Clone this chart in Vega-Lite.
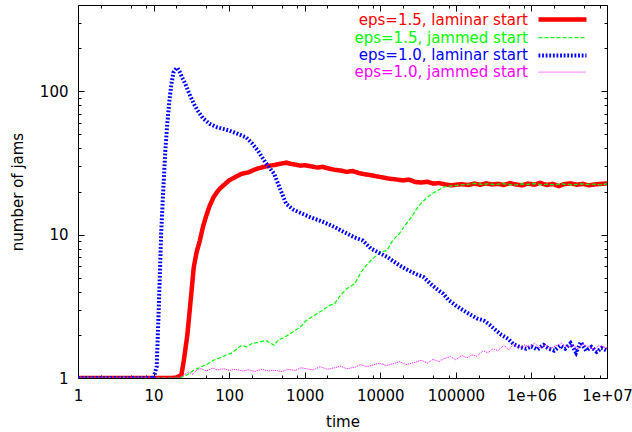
{
  "$schema": "https://vega.github.io/schema/vega-lite/v6.json",
  "width": 529,
  "height": 373,
  "autosize": {"type": "none"},
  "padding": {"left": 78, "top": 5, "right": 25, "bottom": 54},
  "background": "white",
  "config": {
    "view": {"stroke": "black", "strokeWidth": 1},
    "font": "DejaVu Sans",
    "axis": {"labelFont": "DejaVu Sans", "titleFont": "DejaVu Sans", "labelFontSize": 15, "titleFontSize": 15, "titleFontWeight": "normal", "labelColor": "black", "titleColor": "black", "grid": false, "domain": false, "tickColor": "black", "tickWidth": 1}
  },
  "datasets": {
    "jams": [
      {"s":"eps=1.5, laminar start","t":1,"n":1},{"s":"eps=1.5, laminar start","t":5,"n":1},{"s":"eps=1.5, laminar start","t":10,"n":1},{"s":"eps=1.5, laminar start","t":15,"n":1},{"s":"eps=1.5, laminar start","t":18,"n":1},{"s":"eps=1.5, laminar start","t":20,"n":1.01},{"s":"eps=1.5, laminar start","t":22,"n":1.03},{"s":"eps=1.5, laminar start","t":23.4,"n":1.06},{"s":"eps=1.5, laminar start","t":25,"n":1.3},{"s":"eps=1.5, laminar start","t":28,"n":2.0},{"s":"eps=1.5, laminar start","t":31,"n":3.5},{"s":"eps=1.5, laminar start","t":34,"n":5.9},{"s":"eps=1.5, laminar start","t":37,"n":7.5},{"s":"eps=1.5, laminar start","t":41,"n":9.1},{"s":"eps=1.5, laminar start","t":45,"n":11.3},{"s":"eps=1.5, laminar start","t":49,"n":13.2},{"s":"eps=1.5, laminar start","t":55,"n":15.8},{"s":"eps=1.5, laminar start","t":62,"n":18.2},{"s":"eps=1.5, laminar start","t":70,"n":20},{"s":"eps=1.5, laminar start","t":75,"n":20.9},{"s":"eps=1.5, laminar start","t":87,"n":22.4},{"s":"eps=1.5, laminar start","t":100,"n":23.9},{"s":"eps=1.5, laminar start","t":120,"n":25.2},{"s":"eps=1.5, laminar start","t":147,"n":26.6},{"s":"eps=1.5, laminar start","t":180,"n":27.2},{"s":"eps=1.5, laminar start","t":220,"n":28.5},{"s":"eps=1.5, laminar start","t":272,"n":29.5},{"s":"eps=1.5, laminar start","t":330,"n":30.2},{"s":"eps=1.5, laminar start","t":400,"n":30.6},{"s":"eps=1.5, laminar start","t":470,"n":31.2},{"s":"eps=1.5, laminar start","t":569,"n":31.8},{"s":"eps=1.5, laminar start","t":650,"n":31.2},{"s":"eps=1.5, laminar start","t":750,"n":30.8},{"s":"eps=1.5, laminar start","t":880,"n":30.3},{"s":"eps=1.5, laminar start","t":1000,"n":30.5},{"s":"eps=1.5, laminar start","t":1200,"n":30.0},{"s":"eps=1.5, laminar start","t":1450,"n":29.4},{"s":"eps=1.5, laminar start","t":1722,"n":29.7},{"s":"eps=1.5, laminar start","t":2100,"n":28.9},{"s":"eps=1.5, laminar start","t":2500,"n":28.3},{"s":"eps=1.5, laminar start","t":3000,"n":28.0},{"s":"eps=1.5, laminar start","t":3600,"n":27.4},{"s":"eps=1.5, laminar start","t":4300,"n":27.8},{"s":"eps=1.5, laminar start","t":5200,"n":26.9},{"s":"eps=1.5, laminar start","t":6200,"n":26.4},{"s":"eps=1.5, laminar start","t":7500,"n":26.0},{"s":"eps=1.5, laminar start","t":9000,"n":25.5},{"s":"eps=1.5, laminar start","t":11000,"n":25.0},{"s":"eps=1.5, laminar start","t":13000,"n":24.6},{"s":"eps=1.5, laminar start","t":16000,"n":24.3},{"s":"eps=1.5, laminar start","t":20000,"n":23.9},{"s":"eps=1.5, laminar start","t":24000,"n":24.2},{"s":"eps=1.5, laminar start","t":29000,"n":23.3},{"s":"eps=1.5, laminar start","t":35000,"n":23.1},{"s":"eps=1.5, laminar start","t":42000,"n":23.4},{"s":"eps=1.5, laminar start","t":50000,"n":22.7},{"s":"eps=1.5, laminar start","t":60000,"n":22.9},{"s":"eps=1.5, laminar start","t":72000,"n":22.4},{"s":"eps=1.5, laminar start","t":87000,"n":22.1},{"s":"eps=1.5, laminar start","t":100000,"n":22.3},{"s":"eps=1.5, laminar start","t":120000,"n":22.5},{"s":"eps=1.5, laminar start","t":145000,"n":22.2},{"s":"eps=1.5, laminar start","t":175000,"n":22.7},{"s":"eps=1.5, laminar start","t":210000,"n":22.3},{"s":"eps=1.5, laminar start","t":250000,"n":22.8},{"s":"eps=1.5, laminar start","t":300000,"n":22.4},{"s":"eps=1.5, laminar start","t":360000,"n":22.6},{"s":"eps=1.5, laminar start","t":430000,"n":22.2},{"s":"eps=1.5, laminar start","t":520000,"n":22.9},{"s":"eps=1.5, laminar start","t":620000,"n":22.4},{"s":"eps=1.5, laminar start","t":750000,"n":22.1},{"s":"eps=1.5, laminar start","t":900000,"n":22.7},{"s":"eps=1.5, laminar start","t":1100000,"n":22.3},{"s":"eps=1.5, laminar start","t":1300000,"n":23.0},{"s":"eps=1.5, laminar start","t":1600000,"n":22.2},{"s":"eps=1.5, laminar start","t":1900000,"n":22.6},{"s":"eps=1.5, laminar start","t":2300000,"n":21.8},{"s":"eps=1.5, laminar start","t":2700000,"n":22.5},{"s":"eps=1.5, laminar start","t":3300000,"n":22.8},{"s":"eps=1.5, laminar start","t":4000000,"n":22.3},{"s":"eps=1.5, laminar start","t":4800000,"n":22.6},{"s":"eps=1.5, laminar start","t":5700000,"n":22.1},{"s":"eps=1.5, laminar start","t":6900000,"n":22.4},{"s":"eps=1.5, laminar start","t":8300000,"n":22.6},{"s":"eps=1.5, laminar start","t":10000000,"n":22.8},

      {"s":"eps=1.5, jammed start","t":1,"n":1},{"s":"eps=1.5, jammed start","t":10,"n":1},{"s":"eps=1.5, jammed start","t":20,"n":1},{"s":"eps=1.5, jammed start","t":25,"n":1.02},{"s":"eps=1.5, jammed start","t":30,"n":1.08},{"s":"eps=1.5, jammed start","t":33.7,"n":1.13},{"s":"eps=1.5, jammed start","t":40,"n":1.18},{"s":"eps=1.5, jammed start","t":50,"n":1.24},{"s":"eps=1.5, jammed start","t":62,"n":1.33},{"s":"eps=1.5, jammed start","t":75,"n":1.38},{"s":"eps=1.5, jammed start","t":90,"n":1.44},{"s":"eps=1.5, jammed start","t":110,"n":1.5},{"s":"eps=1.5, jammed start","t":130,"n":1.62},{"s":"eps=1.5, jammed start","t":147,"n":1.69},{"s":"eps=1.5, jammed start","t":170,"n":1.65},{"s":"eps=1.5, jammed start","t":200,"n":1.74},{"s":"eps=1.5, jammed start","t":250,"n":1.78},{"s":"eps=1.5, jammed start","t":307,"n":1.83},{"s":"eps=1.5, jammed start","t":350,"n":1.75},{"s":"eps=1.5, jammed start","t":394,"n":1.69},{"s":"eps=1.5, jammed start","t":450,"n":1.85},{"s":"eps=1.5, jammed start","t":520,"n":1.9},{"s":"eps=1.5, jammed start","t":645,"n":2.04},{"s":"eps=1.5, jammed start","t":800,"n":2.2},{"s":"eps=1.5, jammed start","t":900,"n":2.3},{"s":"eps=1.5, jammed start","t":1050,"n":2.52},{"s":"eps=1.5, jammed start","t":1300,"n":2.7},{"s":"eps=1.5, jammed start","t":1500,"n":2.85},{"s":"eps=1.5, jammed start","t":1722,"n":2.96},{"s":"eps=1.5, jammed start","t":2100,"n":3.2},{"s":"eps=1.5, jammed start","t":2490,"n":3.3},{"s":"eps=1.5, jammed start","t":3000,"n":3.8},{"s":"eps=1.5, jammed start","t":3600,"n":4.2},{"s":"eps=1.5, jammed start","t":4590,"n":4.55},{"s":"eps=1.5, jammed start","t":5500,"n":5.4},{"s":"eps=1.5, jammed start","t":6500,"n":6.1},{"s":"eps=1.5, jammed start","t":7510,"n":6.6},{"s":"eps=1.5, jammed start","t":9000,"n":7.2},{"s":"eps=1.5, jammed start","t":10500,"n":7.6},{"s":"eps=1.5, jammed start","t":12300,"n":7.76},{"s":"eps=1.5, jammed start","t":14000,"n":8.8},{"s":"eps=1.5, jammed start","t":16000,"n":9.6},{"s":"eps=1.5, jammed start","t":17700,"n":10.1},{"s":"eps=1.5, jammed start","t":21000,"n":11.5},{"s":"eps=1.5, jammed start","t":25700,"n":13.2},{"s":"eps=1.5, jammed start","t":30000,"n":15},{"s":"eps=1.5, jammed start","t":35000,"n":16.6},{"s":"eps=1.5, jammed start","t":41900,"n":18.2},{"s":"eps=1.5, jammed start","t":50000,"n":19.5},{"s":"eps=1.5, jammed start","t":60000,"n":20.6},{"s":"eps=1.5, jammed start","t":68200,"n":21.4},{"s":"eps=1.5, jammed start","t":80000,"n":21.8},{"s":"eps=1.5, jammed start","t":98800,"n":22.0},{"s":"eps=1.5, jammed start","t":120000,"n":22.3},{"s":"eps=1.5, jammed start","t":150000,"n":22.5},{"s":"eps=1.5, jammed start","t":180000,"n":22.8},{"s":"eps=1.5, jammed start","t":220000,"n":22.4},{"s":"eps=1.5, jammed start","t":270000,"n":22.6},{"s":"eps=1.5, jammed start","t":330000,"n":22.3},{"s":"eps=1.5, jammed start","t":400000,"n":22.7},{"s":"eps=1.5, jammed start","t":500000,"n":22.4},{"s":"eps=1.5, jammed start","t":600000,"n":22.2},{"s":"eps=1.5, jammed start","t":750000,"n":22.6},{"s":"eps=1.5, jammed start","t":900000,"n":22.4},{"s":"eps=1.5, jammed start","t":1100000,"n":22.7},{"s":"eps=1.5, jammed start","t":1350000,"n":22.3},{"s":"eps=1.5, jammed start","t":1650000,"n":22.5},{"s":"eps=1.5, jammed start","t":2000000,"n":22.2},{"s":"eps=1.5, jammed start","t":2500000,"n":22.6},{"s":"eps=1.5, jammed start","t":3000000,"n":22.4},{"s":"eps=1.5, jammed start","t":3700000,"n":22.3},{"s":"eps=1.5, jammed start","t":4500000,"n":22.6},{"s":"eps=1.5, jammed start","t":5500000,"n":22.4},{"s":"eps=1.5, jammed start","t":6700000,"n":22.5},{"s":"eps=1.5, jammed start","t":8200000,"n":22.3},{"s":"eps=1.5, jammed start","t":10000000,"n":22.6},

      {"s":"eps=1.0, laminar start","t":1,"n":1},{"s":"eps=1.0, laminar start","t":5,"n":1},{"s":"eps=1.0, laminar start","t":9,"n":1},{"s":"eps=1.0, laminar start","t":10,"n":1},{"s":"eps=1.0, laminar start","t":11,"n":1.2},{"s":"eps=1.0, laminar start","t":11.7,"n":3},{"s":"eps=1.0, laminar start","t":12.6,"n":10.2},{"s":"eps=1.0, laminar start","t":13.4,"n":20},{"s":"eps=1.0, laminar start","t":14.3,"n":38.6},{"s":"eps=1.0, laminar start","t":15.2,"n":60},{"s":"eps=1.0, laminar start","t":16.2,"n":86},{"s":"eps=1.0, laminar start","t":17.2,"n":112},{"s":"eps=1.0, laminar start","t":18.3,"n":135},{"s":"eps=1.0, laminar start","t":19.5,"n":142},{"s":"eps=1.0, laminar start","t":20.6,"n":146},{"s":"eps=1.0, laminar start","t":22,"n":138},{"s":"eps=1.0, laminar start","t":24,"n":124},{"s":"eps=1.0, laminar start","t":26.4,"n":112},{"s":"eps=1.0, laminar start","t":30,"n":95},{"s":"eps=1.0, laminar start","t":34,"n":82},{"s":"eps=1.0, laminar start","t":38.2,"n":73.4},{"s":"eps=1.0, laminar start","t":45,"n":65},{"s":"eps=1.0, laminar start","t":55,"n":59.3},{"s":"eps=1.0, laminar start","t":70,"n":56},{"s":"eps=1.0, laminar start","t":85,"n":54.5},{"s":"eps=1.0, laminar start","t":100,"n":53.2},{"s":"eps=1.0, laminar start","t":130,"n":50.5},{"s":"eps=1.0, laminar start","t":167,"n":47.8},{"s":"eps=1.0, laminar start","t":200,"n":43.5},{"s":"eps=1.0, laminar start","t":240,"n":38.6},{"s":"eps=1.0, laminar start","t":300,"n":32},{"s":"eps=1.0, laminar start","t":394,"n":26.6},{"s":"eps=1.0, laminar start","t":470,"n":21},{"s":"eps=1.0, laminar start","t":569,"n":16.4},{"s":"eps=1.0, laminar start","t":700,"n":15.0},{"s":"eps=1.0, laminar start","t":929,"n":14.0},{"s":"eps=1.0, laminar start","t":1200,"n":13.2},{"s":"eps=1.0, laminar start","t":1600,"n":12.5},{"s":"eps=1.0, laminar start","t":2000,"n":11.9},{"s":"eps=1.0, laminar start","t":2490,"n":11.3},{"s":"eps=1.0, laminar start","t":3000,"n":10.7},{"s":"eps=1.0, laminar start","t":3600,"n":10.2},{"s":"eps=1.0, laminar start","t":4500,"n":9.6},{"s":"eps=1.0, laminar start","t":5870,"n":9.1},{"s":"eps=1.0, laminar start","t":7500,"n":8.0},{"s":"eps=1.0, laminar start","t":9500,"n":7.5},{"s":"eps=1.0, laminar start","t":12300,"n":7.0},{"s":"eps=1.0, laminar start","t":15000,"n":6.5},{"s":"eps=1.0, laminar start","t":19000,"n":6.0},{"s":"eps=1.0, laminar start","t":24000,"n":5.6},{"s":"eps=1.0, laminar start","t":30000,"n":5.3},{"s":"eps=1.0, laminar start","t":37300,"n":5.06},{"s":"eps=1.0, laminar start","t":45000,"n":4.6},{"s":"eps=1.0, laminar start","t":55000,"n":4.2},{"s":"eps=1.0, laminar start","t":68200,"n":3.87},{"s":"eps=1.0, laminar start","t":80000,"n":3.5},{"s":"eps=1.0, laminar start","t":100000,"n":3.2},{"s":"eps=1.0, laminar start","t":126000,"n":2.96},{"s":"eps=1.0, laminar start","t":150000,"n":2.8},{"s":"eps=1.0, laminar start","t":190000,"n":2.6},{"s":"eps=1.0, laminar start","t":234000,"n":2.52},{"s":"eps=1.0, laminar start","t":280000,"n":2.35},{"s":"eps=1.0, laminar start","t":339000,"n":2.15},{"s":"eps=1.0, laminar start","t":400000,"n":2.0},{"s":"eps=1.0, laminar start","t":490000,"n":1.88},{"s":"eps=1.0, laminar start","t":580000,"n":1.72},{"s":"eps=1.0, laminar start","t":710000,"n":1.64},{"s":"eps=1.0, laminar start","t":850000,"n":1.6},{"s":"eps=1.0, laminar start","t":1000000,"n":1.66},{"s":"eps=1.0, laminar start","t":1200000,"n":1.58},{"s":"eps=1.0, laminar start","t":1450000,"n":1.7},{"s":"eps=1.0, laminar start","t":1700000,"n":1.6},{"s":"eps=1.0, laminar start","t":2000000,"n":1.55},{"s":"eps=1.0, laminar start","t":2400000,"n":1.68},{"s":"eps=1.0, laminar start","t":2800000,"n":1.6},{"s":"eps=1.0, laminar start","t":3300000,"n":1.75},{"s":"eps=1.0, laminar start","t":3900000,"n":1.5},{"s":"eps=1.0, laminar start","t":4500000,"n":1.78},{"s":"eps=1.0, laminar start","t":5300000,"n":1.55},{"s":"eps=1.0, laminar start","t":6200000,"n":1.65},{"s":"eps=1.0, laminar start","t":7300000,"n":1.52},{"s":"eps=1.0, laminar start","t":8500000,"n":1.62},{"s":"eps=1.0, laminar start","t":10000000,"n":1.55},

      {"s":"eps=1.0, jammed start","t":1,"n":1},{"s":"eps=1.0, jammed start","t":10,"n":1},{"s":"eps=1.0, jammed start","t":20,"n":1.0},{"s":"eps=1.0, jammed start","t":24,"n":1.03},{"s":"eps=1.0, jammed start","t":28.8,"n":1.1},{"s":"eps=1.0, jammed start","t":33,"n":1.06},{"s":"eps=1.0, jammed start","t":38,"n":1.15},{"s":"eps=1.0, jammed start","t":43,"n":1.16},{"s":"eps=1.0, jammed start","t":50,"n":1.12},{"s":"eps=1.0, jammed start","t":60,"n":1.17},{"s":"eps=1.0, jammed start","t":70,"n":1.14},{"s":"eps=1.0, jammed start","t":85,"n":1.16},{"s":"eps=1.0, jammed start","t":100,"n":1.13},{"s":"eps=1.0, jammed start","t":120,"n":1.15},{"s":"eps=1.0, jammed start","t":150,"n":1.12},{"s":"eps=1.0, jammed start","t":180,"n":1.14},{"s":"eps=1.0, jammed start","t":220,"n":1.11},{"s":"eps=1.0, jammed start","t":270,"n":1.15},{"s":"eps=1.0, jammed start","t":330,"n":1.12},{"s":"eps=1.0, jammed start","t":400,"n":1.13},{"s":"eps=1.0, jammed start","t":500,"n":1.11},{"s":"eps=1.0, jammed start","t":600,"n":1.15},{"s":"eps=1.0, jammed start","t":750,"n":1.13},{"s":"eps=1.0, jammed start","t":900,"n":1.18},{"s":"eps=1.0, jammed start","t":1050,"n":1.16},{"s":"eps=1.0, jammed start","t":1300,"n":1.14},{"s":"eps=1.0, jammed start","t":1600,"n":1.2},{"s":"eps=1.0, jammed start","t":2000,"n":1.15},{"s":"eps=1.0, jammed start","t":2500,"n":1.18},{"s":"eps=1.0, jammed start","t":3000,"n":1.21},{"s":"eps=1.0, jammed start","t":3600,"n":1.16},{"s":"eps=1.0, jammed start","t":4590,"n":1.19},{"s":"eps=1.0, jammed start","t":5500,"n":1.24},{"s":"eps=1.0, jammed start","t":6500,"n":1.2},{"s":"eps=1.0, jammed start","t":8000,"n":1.23},{"s":"eps=1.0, jammed start","t":9600,"n":1.27},{"s":"eps=1.0, jammed start","t":12000,"n":1.22},{"s":"eps=1.0, jammed start","t":15000,"n":1.26},{"s":"eps=1.0, jammed start","t":18000,"n":1.3},{"s":"eps=1.0, jammed start","t":22000,"n":1.24},{"s":"eps=1.0, jammed start","t":29000,"n":1.29},{"s":"eps=1.0, jammed start","t":35000,"n":1.33},{"s":"eps=1.0, jammed start","t":42000,"n":1.27},{"s":"eps=1.0, jammed start","t":50000,"n":1.35},{"s":"eps=1.0, jammed start","t":60000,"n":1.3},{"s":"eps=1.0, jammed start","t":68200,"n":1.36},{"s":"eps=1.0, jammed start","t":85000,"n":1.41},{"s":"eps=1.0, jammed start","t":100000,"n":1.34},{"s":"eps=1.0, jammed start","t":120000,"n":1.44},{"s":"eps=1.0, jammed start","t":140000,"n":1.38},{"s":"eps=1.0, jammed start","t":162000,"n":1.45},{"s":"eps=1.0, jammed start","t":190000,"n":1.42},{"s":"eps=1.0, jammed start","t":230000,"n":1.55},{"s":"eps=1.0, jammed start","t":265000,"n":1.5},{"s":"eps=1.0, jammed start","t":310000,"n":1.6},{"s":"eps=1.0, jammed start","t":360000,"n":1.55},{"s":"eps=1.0, jammed start","t":430000,"n":1.69},{"s":"eps=1.0, jammed start","t":500000,"n":1.58},{"s":"eps=1.0, jammed start","t":580000,"n":1.72},{"s":"eps=1.0, jammed start","t":680000,"n":1.62},{"s":"eps=1.0, jammed start","t":800000,"n":1.7},{"s":"eps=1.0, jammed start","t":950000,"n":1.65},{"s":"eps=1.0, jammed start","t":1100000,"n":1.75},{"s":"eps=1.0, jammed start","t":1300000,"n":1.62},{"s":"eps=1.0, jammed start","t":1550000,"n":1.7},{"s":"eps=1.0, jammed start","t":1800000,"n":1.6},{"s":"eps=1.0, jammed start","t":2100000,"n":1.68},{"s":"eps=1.0, jammed start","t":2500000,"n":1.74},{"s":"eps=1.0, jammed start","t":3000000,"n":1.64},{"s":"eps=1.0, jammed start","t":3500000,"n":1.7},{"s":"eps=1.0, jammed start","t":4100000,"n":1.6},{"s":"eps=1.0, jammed start","t":4800000,"n":1.72},{"s":"eps=1.0, jammed start","t":5700000,"n":1.65},{"s":"eps=1.0, jammed start","t":6700000,"n":1.58},{"s":"eps=1.0, jammed start","t":7800000,"n":1.68},{"s":"eps=1.0, jammed start","t":10000000,"n":1.62}
    ]
  },
  "data": {"name": "jams"},
  "layer": [
    {
      "mark": {"type": "line", "clip": true},
      "encoding": {
        "x": {"field": "t", "type": "quantitative",
              "scale": {"type": "log", "domain": [1, 10000000], "nice": false},
              "axis": {"title": "time", "orient": "bottom",
                       "values": [1,2,5,8,10,20,50,80,100,200,500,800,1000,2000,5000,8000,10000,20000,50000,80000,100000,200000,500000,800000,1000000,2000000,5000000,8000000,10000000],
                       "labelExpr": "abs(log(datum.value)/LN10 - round(log(datum.value)/LN10)) < 0.001 ? (datum.value >= 1000000 ? '1e+0' + round(log(datum.value)/LN10) : format(datum.value, 'd')) : ''",
                       "tickSize": {"condition": {"test": "abs(log(datum.value)/LN10 - round(log(datum.value)/LN10)) < 0.001", "value": -6}, "value": -3},
                       "labelPadding": 16, "labelOverlap": false, "labelFlush": false, "titlePadding": 8}},
        "y": {"field": "n", "type": "quantitative",
              "scale": {"type": "log", "domain": [1, 400], "nice": false},
              "axis": {"title": "number of jams", "orient": "left",
                       "values": [1,2,3,4,5,6,7,8,9,10,20,30,40,50,60,70,80,90,100,200,300],
                       "labelExpr": "abs(log(datum.value)/LN10 - round(log(datum.value)/LN10)) < 0.001 ? format(datum.value, 'd') : ''",
                       "tickSize": {"condition": {"test": "abs(log(datum.value)/LN10 - round(log(datum.value)/LN10)) < 0.001", "value": -6}, "value": -3},
                       "labelPadding": 16, "labelOverlap": false, "labelFlush": false, "titlePadding": 14}},
        "color": {"field": "s", "type": "nominal",
                  "scale": {"domain": ["eps=1.5, laminar start", "eps=1.5, jammed start", "eps=1.0, laminar start", "eps=1.0, jammed start"],
                            "range": ["#ff0000", "#00ff00", "#0000ff", "#ff00ff"]},
                  "legend": {"title": null, "orient": "none", "legendX": 476, "legendY": 6,
                             "symbolType": "M-4,0H4", "symbolSize": 144,
                             "labelFont": "DejaVu Sans", "labelFontSize": 15, "labelAlign": "right", "labelOffset": -43, "labelLimit": 0,
                             "rowPadding": 1.2, "padding": 0,
                             "encode": {"labels": {"update": {"fill": {"scale": "color", "field": "value"}}}}}},
        "strokeWidth": {"field": "s", "type": "nominal",
                        "scale": {"type": "ordinal", "domain": ["eps=1.5, laminar start", "eps=1.5, jammed start", "eps=1.0, laminar start", "eps=1.0, jammed start"],
                                  "range": [4.5, 1.2, 4, 1]}},
        "strokeDash": {"field": "s", "type": "nominal",
                       "scale": {"type": "ordinal", "domain": ["eps=1.5, laminar start", "eps=1.5, jammed start", "eps=1.0, laminar start", "eps=1.0, jammed start"],
                                 "range": [[1, 0], [4, 2], [1.8, 1.8], [1, 1]]}},
        "order": {"field": "t", "type": "quantitative"}
      }
    },
    {
      "mark": {"type": "line", "opacity": 0},
      "encoding": {
        "x": {"field": "t", "type": "quantitative",
              "axis": {"title": null, "labels": false,
                       "values": [1,2,5,8,10,20,50,80,100,200,500,800,1000,2000,5000,8000,10000,20000,50000,80000,100000,200000,500000,800000,1000000,2000000,5000000,8000000,10000000],
                       "tickSize": {"condition": {"test": "abs(log(datum.value)/LN10 - round(log(datum.value)/LN10)) < 0.001", "value": -6}, "value": -3}}},
        "y": {"field": "n", "type": "quantitative",
              "axis": {"title": null, "labels": false,
                       "values": [1,2,3,4,5,6,7,8,9,10,20,30,40,50,60,70,80,90,100,200,300],
                       "tickSize": {"condition": {"test": "abs(log(datum.value)/LN10 - round(log(datum.value)/LN10)) < 0.001", "value": -6}, "value": -3}}},
        "detail": {"field": "s", "type": "nominal"}
      }
    }
  ],
  "resolve": {"axis": {"x": "independent", "y": "independent"}}
}
